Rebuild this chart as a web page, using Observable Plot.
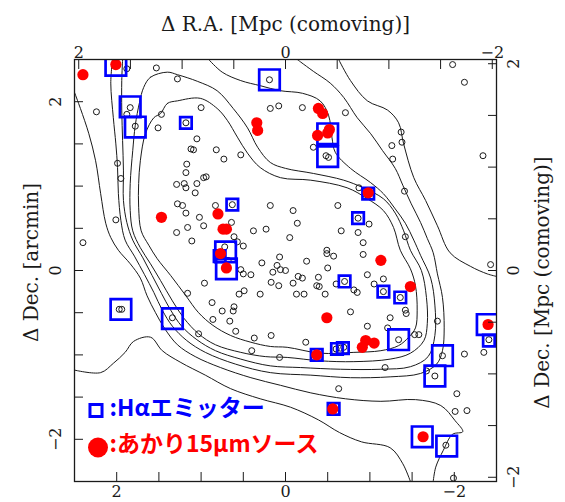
<!DOCTYPE html>
<html>
<head>
<meta charset="utf-8">
<script src="https://cdn.jsdelivr.net/npm/d3@7"></script>
<script src="https://cdn.jsdelivr.net/npm/@observablehq/plot@0.6"></script>
<style>
  html, body { margin: 0; padding: 0; background: #fff; }
</style>
</head>
<body>
<div id="chart"></div>
<script>
// Offsets from the field centre, in arcmin: [ΔR.A., ΔDec.]
const ARCMIN_PER_MPC = 1.225; // comoving Mpc scale used on the top and right axes

const arcminTicks = [-2, -1.5, -1, -0.5, 0, 0.5, 1, 1.5, 2];
const arcminLabels = [-2, 0, 2];
const mpcTicks = [-2, -1.5, -1, -0.5, 0, 0.5, 1, 1.5, 2];
const mpcLabels = [-2, 0, 2];

// All galaxies in the field (open circles)
const galaxies = [
  [1.53,2.40],[1.28,2.27],[0.19,2.26],[1.84,1.93],[1.88,1.85],[1.78,1.71],[2.24,1.88],[1.47,1.85],
  [1.51,1.69],[1.00,1.93],[1.18,1.75],[0.18,1.92],[0.08,1.95],[1.05,1.56],[1.12,1.44],[1.09,1.43],
  [0.82,1.43],[0.73,1.32],[0.53,1.37],[1.99,1.27],[1.17,1.26],[1.95,1.09],[1.18,1.16],[0.97,1.10],
  [0.94,1.11],[1.29,1.02],[1.20,1.03],[1.18,0.98],[1.05,1.03],[1.07,0.92],[1.28,0.79],[1.22,0.77],
  [1.18,0.68],[0.83,0.77],[0.63,0.78],[0.18,0.77],[2.01,0.60],[1.02,0.63],[0.97,0.53],[1.16,0.51],
  [1.29,0.45],[0.64,0.57],[0.38,0.47],[0.23,0.49],[0.61,0.40],[1.11,0.35],[2.40,0.33],[0.57,0.34],
  [0.50,0.29],[0.72,0.28],[0.68,0.12],[0.53,0.01],[0.50,-0.04],[0.41,-0.05],[0.28,0.09],[0.15,-0.02],
  [0.10,0.06],[0.17,-0.14],[0.08,-0.18],[0.96,-0.15],[0.55,-0.28],[0.49,-0.24],[0.30,-0.28],[1.16,-0.27],
  [0.87,-0.38],[0.61,-0.43],[0.62,-0.48],[0.75,-0.48],[1.97,-0.46],[1.94,-0.46],[1.34,-0.56],[0.86,-0.58],
  [0.66,-0.60],[0.59,-0.72],[1.03,-0.75],[0.37,-0.80],[0.17,-0.77],[0.40,-0.95],[0.07,-1.03],[1.88,2.39],
  [-1.98,2.44],[-2.12,2.23],[-0.20,1.93],[-0.71,1.87],[-0.33,1.46],[-0.48,1.36],[-0.51,1.34],[-1.37,1.64],
  [-1.38,1.52],[-1.26,1.48],[-1.27,1.32],[-2.34,1.36],[-0.87,0.98],[-1.41,0.94],[-0.09,0.71],[-0.62,0.77],
  [-0.14,0.56],[-0.86,0.62],[-0.99,0.55],[-0.66,0.47],[-0.86,0.45],[-0.05,0.39],[-1.42,0.40],[-0.49,0.24],
  [-0.49,0.20],[-0.92,0.33],[-0.57,0.17],[-0.92,0.19],[0.07,0.16],[-0.25,0.11],[0.06,0.01],[0.00,0.00],
  [-0.15,-0.07],[-0.20,-0.09],[-0.09,-0.15],[-0.39,-0.08],[-0.50,0.03],[-0.37,-0.18],[-0.40,-0.19],[-0.47,-0.28],
  [-0.13,-0.28],[-0.22,-0.28],[-0.77,-0.49],[-0.70,-0.13],[-0.97,-0.05],[-1.16,-0.10],[-1.05,-0.16],[-0.60,-0.16],
  [-0.81,-0.23],[-0.85,-0.26],[-1.16,-0.25],[-1.36,-0.32],[-1.42,-0.47],[-1.43,-0.51],[-1.24,-0.56],[-0.97,-0.66],
  [-1.21,-0.68],[-1.80,-0.60],[-0.24,-0.85],[-1.34,-0.82],[-1.53,-0.76],[-1.58,-0.76],[-0.60,-0.93],[-0.65,-0.92],
  [-0.69,-0.91],[-1.18,-1.15],[-1.86,-1.01],[-1.67,-1.19],[-1.77,-1.25],[-2.12,-0.99],[-2.35,-0.97],[-2.43,0.07],
  [-2.41,-0.82],[-2.03,-1.46],[-2.01,-1.67],[-2.15,-1.66],[-0.63,-1.40],[-1.90,-2.07],[-1.99,-2.46]
];

// Hα emitters (blue squares), two box sizes
const haEmittersLarge = [
  [2.01,2.43],[0.19,2.26],[1.84,1.94],[1.78,1.70],[0.71,0.22],[0.70,0.02],[1.95,-0.46],[1.34,-0.57],
  [-0.50,1.62],[-0.50,1.35],[-1.34,-0.82],[-1.86,-1.01],[-1.77,-1.25],[-2.39,-0.64],[-1.62,-1.97],[-1.91,-2.08]
];
const haEmittersSmall = [
  [1.18,1.75],[0.63,0.78],[0.78,0.17],[-0.98,0.91],[-0.86,0.62],[-0.70,-0.13],[-1.16,-0.25],[-1.36,-0.32],
  [-0.61,-0.93],[-0.68,-0.92],[-0.37,-1.00],[-2.41,-0.83],[-0.57,-1.64]
];

// AKARI 15 µm sources (red discs)
const akariSources = [
  [2.40,2.32],[2.01,2.44],[0.34,1.75],[0.33,1.66],[1.47,0.63],[0.80,0.67],[0.74,0.49],[0.70,0.49],
  [0.77,0.20],[0.70,0.03],[-0.39,1.92],[-0.44,1.86],[-0.52,1.67],[-0.50,1.63],[-0.38,1.60],[-0.98,0.92],
  [-1.13,0.12],[-1.48,-0.19],[-0.49,-0.56],[-0.95,-0.83],[-0.91,-0.91],[-1.05,-0.86],[-0.37,-1.00],
  [-2.40,-0.64],[-0.56,-1.64],[-1.63,-1.97]
];

// Galaxy surface-density contours
const contourPeak = [
  [1.48,1.86],[1.40,1.98],[1.28,2.01],[1.01,2.04],[0.81,1.92],[0.69,1.78],[0.57,1.58],[0.45,1.39],
  [0.30,1.22],[0.06,1.10],[-0.30,1.07],[-0.73,0.98],[-0.97,0.85],[-1.16,0.71],[-1.28,0.51],[-1.36,0.24],
  [-1.48,0.02],[-1.54,-0.18],[-1.56,-0.47],[-1.54,-0.68],[-1.46,-0.79],[-1.34,-0.89],[-1.13,-0.95],
  [-0.81,-0.97],[-0.41,-0.98],[-0.02,-0.91],[0.18,-0.90],[0.41,-0.85],[0.65,-0.77],[0.86,-0.65],
  [1.03,-0.50],[1.18,-0.30],[1.36,-0.06],[1.52,0.14],[1.62,0.30],[1.71,0.47],[1.74,0.75],[1.74,1.03],
  [1.72,1.30],[1.66,1.62],[1.56,1.81]
];
const contourHigh = [
  [1.68,2.17],[1.60,2.29],[1.40,2.35],[1.28,2.32],[1.04,2.24],[0.81,2.13],[0.62,1.92],[0.45,1.69],
  [0.33,1.46],[0.18,1.28],[0.00,1.21],[-0.33,1.15],[-0.69,1.07],[-0.92,0.98],[-1.16,0.85],[-1.30,0.68],
  [-1.40,0.47],[-1.48,0.24],[-1.61,0.00],[-1.67,-0.32],[-1.68,-0.63],[-1.64,-0.83],[-1.48,-0.98],
  [-1.24,-1.05],[-0.81,-1.08],[-0.41,-1.07],[-0.02,-1.03],[0.24,-1.02],[0.53,-0.97],[0.83,-0.88],
  [1.03,-0.75],[1.20,-0.57],[1.34,-0.36],[1.48,-0.12],[1.60,0.08],[1.72,0.27],[1.81,0.47],[1.84,0.71],
  [1.84,1.03],[1.81,1.42],[1.78,1.72],[1.73,1.99]
];
const contourMid = [
  [1.93,2.50],[1.94,2.25],[1.94,1.90],[1.93,1.54],[1.92,1.18],[1.92,0.83],[1.88,0.57],[1.81,0.36],
  [1.69,0.15],[1.58,-0.06],[1.47,-0.27],[1.36,-0.47],[1.23,-0.66],[1.05,-0.82],[0.83,-0.95],[0.53,-1.05],
  [0.18,-1.13],[-0.18,-1.15],[-0.65,-1.17],[-1.13,-1.17],[-1.48,-1.14],[-1.69,-1.02],[-1.77,-0.77],
  [-1.77,-0.41],[-1.72,-0.09],[-1.60,0.18],[-1.52,0.36],[-1.42,0.56],[-1.30,0.73],[-1.16,0.91],
  [-1.01,1.04],[-0.77,1.21],[-0.59,1.40],[-0.55,1.58],[-0.51,1.84],[-0.41,2.01],[-0.20,2.10],[0.06,2.13],
  [0.30,2.19],[0.53,2.25],[0.75,2.35],[0.91,2.50]
];
const contourLow = [
  [2.05,2.50],[2.07,2.22],[2.04,1.81],[2.01,1.50],[1.99,1.22],[1.98,0.91],[1.95,0.59],[1.90,0.36],
  [1.79,0.17],[1.67,-0.05],[1.56,-0.26],[1.46,-0.47],[1.34,-0.66],[1.17,-0.83],[0.95,-0.97],[0.59,-1.11],
  [0.18,-1.21],[-0.30,-1.24],[-0.77,-1.27],[-1.24,-1.26],[-1.60,-1.22],[-1.79,-1.11],[-1.86,-0.95],
  [-1.88,-0.68],[-1.86,-0.32],[-1.80,-0.04],[-1.75,0.21],[-1.68,0.38],[-1.60,0.57],[-1.49,0.79],
  [-1.39,1.01],[-1.30,1.21],[-1.15,1.42],[-1.01,1.62],[-0.85,1.81],[-0.69,2.05],[-0.53,2.22],[-0.33,2.36],
  [-0.18,2.47],[-0.14,2.50]
];
const contourOuter = [
  [2.50,2.11],[2.43,1.92],[2.33,1.62],[2.25,1.30],[2.19,0.91],[2.13,0.56],[2.07,0.39],[1.98,0.24],
  [1.84,0.08],[1.72,-0.09],[1.64,-0.30],[1.54,-0.50],[1.43,-0.69],[1.28,-0.88],[1.07,-1.02],[0.77,-1.15],
  [0.41,-1.27],[0.06,-1.36],[-0.30,-1.45],[-0.71,-1.52],[-1.13,-1.55],[-1.54,-1.53],[-1.84,-1.60],
  [-2.01,-1.78],[-2.10,-1.91],[-1.98,-1.94],[-1.87,-2.13],[-1.78,-2.33],[-1.75,-2.50]
];
const contourSouth = [
  [2.50,-1.18],[2.19,-1.21],[2.04,-1.10],[1.90,-0.97],[1.80,-0.84],[1.60,-0.79],[1.46,-0.95],[1.24,-1.09],
  [0.95,-1.24],[0.65,-1.40],[0.30,-1.52],[-0.06,-1.62],[-0.39,-1.77],[-0.64,-1.92],[-0.90,-2.03],
  [-1.24,-2.10],[-1.39,-2.29],[-1.48,-2.50]
];
const contourEast = [
  [-0.63,2.50],[-0.77,2.25],[-0.97,2.01],[-1.21,1.90],[-1.34,1.75],[-1.40,1.50],[-1.52,1.10],[-1.66,0.83],
  [-1.80,0.53],[-1.95,0.21],[-2.19,0.05],[-2.39,-0.04],[-2.50,-0.07]
];

const rows = (id, pts) => pts.map(([x, y]) => ({id, x, y}));
const closedContours = [...rows("peak", contourPeak), ...rows("high", contourHigh)];
const openContours = [
  ...rows("mid", contourMid), ...rows("low", contourLow), ...rows("outer", contourOuter),
  ...rows("south", contourSouth), ...rows("east", contourEast)
];

const fmt = d => d < 0 ? "\u2212" + Math.abs(d) : String(d);
const BLUE = "#0000ff";
const RED = "#ff0000";
const INK = "#1a1a1a";
const px = d => d[0], py = d => d[1];
const jp = "'Noto Sans CJK JP', 'Noto Sans', sans-serif";

const chart = Plot.plot({
  width: 565,
  height: 502,
  marginLeft: 74,
  marginRight: 69,
  marginTop: 59,
  marginBottom: 21,
  x: {domain: [2.5, -2.5]},
  y: {domain: [-2.5, 2.5]},
  style: {fontFamily: "'DejaVu Serif', serif", fontSize: "16px", color: INK, background: "#fff"},
  marks: [
    // density contours
    Plot.line(closedContours, {x: "x", y: "y", z: "id", curve: "catmull-rom-closed", stroke: INK, strokeWidth: 1, clip: "frame"}),
    Plot.line(openContours, {x: "x", y: "y", z: "id", curve: "catmull-rom", stroke: INK, strokeWidth: 1, clip: "frame"}),
    // galaxies
    Plot.dot(galaxies, {x: px, y: py, r: 3, stroke: INK, strokeWidth: 1, fill: "none", clip: "frame"}),
    // Hα emitters
    Plot.dot(haEmittersLarge, {x: px, y: py, symbol: "square", r: 11.6, stroke: BLUE, strokeWidth: 2.7, fill: "none", clip: "frame"}),
    Plot.dot(haEmittersSmall, {x: px, y: py, symbol: "square", r: 6.5, stroke: BLUE, strokeWidth: 2.7, fill: "none", clip: "frame"}),
    // AKARI 15 µm sources
    Plot.dot(akariSources, {x: px, y: py, r: 5.6, fill: RED, stroke: "none", clip: "frame"}),
    Plot.frame({stroke: INK, strokeWidth: 1.3}),

    // inward ticks: arcmin on bottom/left, comoving Mpc on top/right
    Plot.axisX(arcminTicks, {anchor: "bottom", tickSize: -9, tickFormat: () => "", label: null, stroke: INK}),
    Plot.axisY(arcminTicks, {anchor: "left", tickSize: -9, tickFormat: () => "", label: null, stroke: INK}),
    Plot.axisX(mpcTicks.map(m => m * ARCMIN_PER_MPC), {anchor: "top", tickSize: -9, tickFormat: () => "", label: null, stroke: INK}),
    Plot.axisY(mpcTicks.map(m => m * ARCMIN_PER_MPC), {anchor: "right", tickSize: -9, tickFormat: () => "", label: null, stroke: INK}),

    // tick labels
    Plot.text(arcminLabels, {x: d => d, text: fmt, frameAnchor: "bottom", dy: 15, fontSize: 16, fill: INK}),
    Plot.text(arcminLabels, {y: d => d, text: fmt, frameAnchor: "left", textAnchor: "middle", dx: -19, rotate: -90, fontSize: 16, fill: INK}),
    Plot.text(mpcLabels, {x: d => d * ARCMIN_PER_MPC, text: fmt, frameAnchor: "top", dy: -13, fontSize: 16, fill: INK}),
    Plot.text(mpcLabels, {y: d => d * ARCMIN_PER_MPC, text: fmt, frameAnchor: "right", textAnchor: "middle", dx: 17, rotate: -90, fontSize: 16, fill: INK}),

    // axis titles
    Plot.text(["\u0394 R.A. [Mpc (comoving)]"], {frameAnchor: "top", dy: -43, fontSize: 20, fill: INK}),
    Plot.text(["\u0394 Dec. [arcmin]"], {frameAnchor: "left", textAnchor: "middle", dx: -43, dy: -8, rotate: -90, fontSize: 20, fill: INK}),
    Plot.text(["\u0394 Dec. [Mpc (comoving)]"], {frameAnchor: "right", textAnchor: "middle", dx: 46, dy: 12, rotate: -90, fontSize: 20, fill: INK}),

    // key
    Plot.dot([0], {frameAnchor: "bottom-left", dx: 21.5, dy: -71, symbol: "square", r: 6.8, stroke: BLUE, strokeWidth: 3, fill: "none"}),
    Plot.text([":H\u03b1エミッター"], {frameAnchor: "bottom-left", dx: 35, dy: -66, textAnchor: "start", fill: BLUE, fontSize: 23, fontWeight: "bold", fontFamily: jp}),
    Plot.dot([0], {frameAnchor: "bottom-left", dx: 23.5, dy: -34, r: 10, fill: RED, stroke: "none"}),
    Plot.text([":あかり15\u03bcmソース"], {frameAnchor: "bottom-left", dx: 35, dy: -30, textAnchor: "start", fill: RED, fontSize: 23, fontWeight: "bold", fontFamily: jp})
  ]
});

document.getElementById("chart").appendChild(chart);
</script>
</body>
</html>
